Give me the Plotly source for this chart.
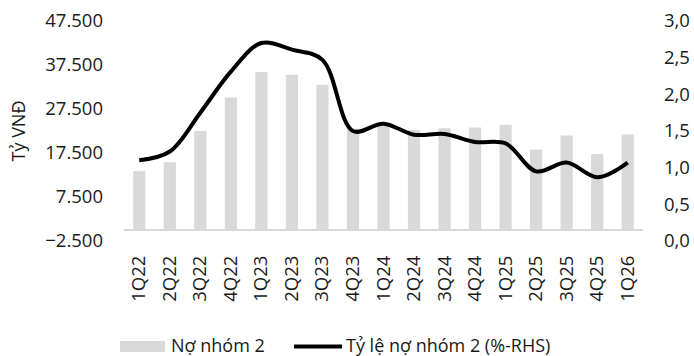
import plotly.graph_objects as go

quarters = ["1Q22", "2Q22", "3Q22", "4Q22", "1Q23", "2Q23", "3Q23", "4Q23",
            "1Q24", "2Q24", "3Q24", "4Q24", "1Q25", "2Q25", "3Q25", "4Q25", "1Q26"]
group2_debt = [13400, 15400, 22500, 30100, 35900, 35300, 33000, 23000,
               23700, 22700, 23100, 23300, 23900, 18300, 21500, 17300, 21700]
group2_ratio = [1.10, 1.22, 1.75, 2.31, 2.70, 2.61, 2.47, 1.50,
                1.60, 1.45, 1.46, 1.35, 1.33, 0.95, 1.07, 0.87, 1.07]

left_ticks = [-2500, 7500, 17500, 27500, 37500, 47500]
right_ticks = [0.0, 0.5, 1.0, 1.5, 2.0, 2.5, 3.0]

FONT = "Open Sans"
BAR_COLOR = "#d9d9d9"
TICK_SIZE = 18.5

fig = go.Figure()
fig.add_trace(go.Bar(x=quarters, y=group2_debt, name="Nợ nhóm 2",
                     marker=dict(color=BAR_COLOR, line=dict(width=0)), yaxis="y"))
fig.add_trace(go.Scatter(x=quarters, y=group2_ratio, name="Tỷ lệ nợ nhóm 2 (%-RHS)",
                         mode="lines", line=dict(color="black", width=4,
                                                 shape="spline", smoothing=1),
                         yaxis="y2"))

W, H = 694, 356
ml, mr, mt, mb = 124, 51, 21, 115
pw, ph = W - ml - mr, H - mt - mb


def px_x(x):
    return (x - ml) / pw


def px_y(y):
    return (H - mb - y) / ph


fig.update_layout(
    width=W, height=H,
    margin=dict(l=ml, r=mr, t=mt, b=mb, autoexpand=False),
    paper_bgcolor="white", plot_bgcolor="white",
    separators=",.",
    font=dict(family=FONT, size=18, color="#1a1a1a"),
    showlegend=False,
    bargap=0.6,
    xaxis=dict(showgrid=False, showline=False, ticks="", tickangle=-90,
               tickfont=dict(size=TICK_SIZE), ticklabelstandoff=10),
    yaxis=dict(range=[-2500, 47500], tickvals=left_ticks, tickformat=",.0f",
               showgrid=False, showline=False, ticks="",
               zeroline=True, zerolinecolor=BAR_COLOR, zerolinewidth=2,
               tickfont=dict(size=TICK_SIZE), ticklabelstandoff=20,
               title=dict(text="Tỷ VNĐ", standoff=14, font=dict(size=18))),
    yaxis2=dict(range=[0, 3], tickvals=right_ticks, tickformat=".1f",
                overlaying="y", side="right", showgrid=False, showline=False,
                zeroline=False, ticks="", tickfont=dict(size=TICK_SIZE),
                ticklabelstandoff=20),
)

# Legend drawn by hand so the bar swatch can be a wide block
fig.add_shape(type="rect", xref="paper", yref="paper",
              x0=px_x(120), x1=px_x(165), y0=px_y(352), y1=px_y(341),
              fillcolor=BAR_COLOR, line=dict(width=0))
fig.add_shape(type="line", xref="paper", yref="paper",
              x0=px_x(294), x1=px_x(342), y0=px_y(346.5), y1=px_y(346.5),
              line=dict(color="black", width=4))
fig.add_annotation(xref="paper", yref="paper", x=px_x(169), y=px_y(345),
                   text="Nợ nhóm 2", showarrow=False, xanchor="left",
                   yanchor="middle", font=dict(size=18))
fig.add_annotation(xref="paper", yref="paper", x=px_x(344), y=px_y(345),
                   text="Tỷ lệ nợ nhóm 2 (%-RHS)", showarrow=False, xanchor="left",
                   yanchor="middle", font=dict(size=18))

fig.write_html("out.html")
